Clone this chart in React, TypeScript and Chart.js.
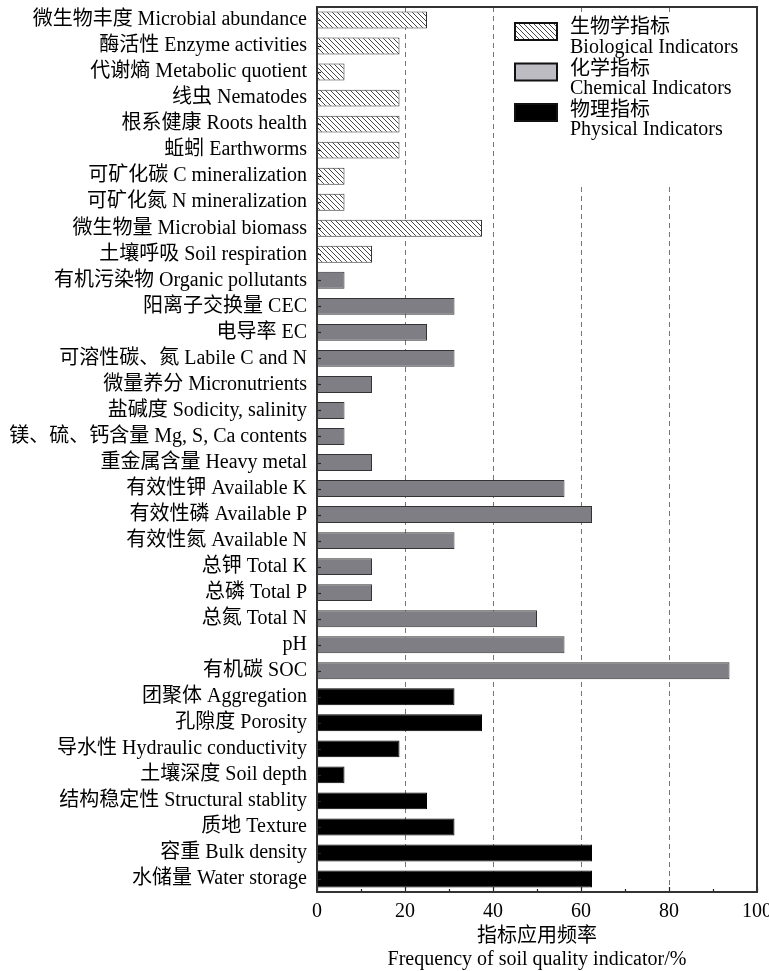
import React, { useEffect, useRef } from "react";
import { Chart, registerables } from "chart.js";

Chart.register(...registerables);

const categories = [
  "微生物丰度 Microbial abundance",
  "酶活性 Enzyme activities",
  "代谢熵 Metabolic quotient",
  "线虫 Nematodes",
  "根系健康 Roots health",
  "蚯蚓 Earthworms",
  "可矿化碳 C mineralization",
  "可矿化氮 N mineralization",
  "微生物量 Microbial biomass",
  "土壤呼吸 Soil respiration",
  "有机污染物 Organic pollutants",
  "阳离子交换量 CEC",
  "电导率 EC",
  "可溶性碳、氮 Labile C and N",
  "微量养分 Micronutrients",
  "盐碱度 Sodicity, salinity",
  "镁、硫、钙含量 Mg, S, Ca contents",
  "重金属含量 Heavy metal",
  "有效性钾 Available K",
  "有效性磷 Available P",
  "有效性氮 Available N",
  "总钾 Total K",
  "总磷 Total P",
  "总氮 Total N",
  "pH",
  "有机碳 SOC",
  "团聚体 Aggregation",
  "孔隙度 Porosity",
  "导水性 Hydraulic conductivity",
  "土壤深度 Soil depth",
  "结构稳定性 Structural stablity",
  "质地 Texture",
  "容重 Bulk density",
  "水储量 Water storage",
];

const frequencies = [
  25, 18.75, 6.25, 18.75, 18.75, 18.75, 6.25, 6.25, 37.5, 12.5,
  6.25, 31.25, 25, 31.25, 12.5, 6.25, 6.25, 12.5, 56.25, 62.5, 31.25, 12.5, 12.5, 50, 56.25, 93.75,
  31.25, 37.5, 18.75, 6.25, 25, 31.25, 62.5, 62.5,
];

const groups = [
  "bio", "bio", "bio", "bio", "bio", "bio", "bio", "bio", "bio", "bio",
  "chem", "chem", "chem", "chem", "chem", "chem", "chem", "chem", "chem", "chem", "chem", "chem", "chem", "chem", "chem", "chem",
  "phys", "phys", "phys", "phys", "phys", "phys", "phys", "phys",
];

const legendGroups = ["bio", "chem", "phys"];
const legendZh = ["生物学指标", "化学指标", "物理指标"];
const legendEn = ["Biological Indicators", "Chemical Indicators", "Physical Indicators"];

const xTickValues = [0, 20, 40, 60, 80, 100];
const gridValues = [20, 40, 60, 80];
const axisTitle = ["指标应用频率", "Frequency of soil quality indicator/%"];

const FONT = '"Liberation Serif", "Noto Sans CJK SC", serif';

function makeHatch(): CanvasPattern | string {
  const s = 5;
  const c = document.createElement("canvas");
  c.width = s;
  c.height = s;
  const g = c.getContext("2d");
  if (!g) return "#fff";
  g.fillStyle = "#fff";
  g.fillRect(0, 0, s, s);
  g.strokeStyle = "#333";
  g.lineWidth = 0.9;
  for (const x0 of [-s, 0, s]) {
    g.beginPath();
    g.moveTo(x0, 0);
    g.lineTo(x0 + s, s);
    g.stroke();
  }
  const p = g.createPattern(c, "repeat");
  return p || "#fff";
}

export default function App() {
  const ref = useRef<HTMLCanvasElement | null>(null);

  useEffect(() => {
    document.body.style.margin = "0";
    const canvas = ref.current;
    if (!canvas) return;
    const hatch = makeHatch();
    const fillFor = (g: string) => (g === "bio" ? hatch : g === "chem" ? "#7f7e84" : "#000");
    const legendFillFor = (g: string) => (g === "bio" ? hatch : g === "chem" ? "#bdbcc2" : "#000");
    const borderFor = (g: string) => (g === "phys" ? "#000" : "#333");

    const deco = {
      id: "deco",
      beforeDatasetsDraw(chart: any) {
        const { ctx, chartArea } = chart;
        const { top, bottom } = chartArea;
        const x = chart.scales.x;
        ctx.save();
        ctx.strokeStyle = "#777";
        ctx.lineWidth = 1;
        ctx.setLineDash([5, 4]);
        for (const v of gridValues) {
          const px = Math.round(x.getPixelForValue(v)) + 0.5;
          ctx.beginPath();
          ctx.moveTo(px, top);
          ctx.lineTo(px, bottom);
          ctx.stroke();
        }
        ctx.setLineDash([]);
        ctx.fillStyle = "#fff";
        ctx.fillRect(505, 13, 250, 170);
        ctx.restore();
      },
      afterDatasetsDraw(chart: any) {
        const { ctx, chartArea } = chart;
        const { top, bottom, left, right } = chartArea;
        const x = chart.scales.x;
        const y = chart.scales.y;
        ctx.save();
        ctx.strokeStyle = "#222";
        ctx.lineWidth = 1.2;
        categories.forEach((_, i) => {
          const py = Math.round(y.getPixelForValue(i)) + 0.5;
          ctx.beginPath();
          ctx.moveTo(left, py);
          ctx.lineTo(left + 4, py);
          ctx.stroke();
        });
        for (let v = 0; v <= 100; v += 10) {
          const px = Math.round(x.getPixelForValue(v)) + 0.5;
          const len = v % 20 === 0 ? 5 : 3;
          ctx.beginPath();
          ctx.moveTo(px, bottom);
          ctx.lineTo(px, bottom - len);
          ctx.stroke();
        }
        ctx.strokeStyle = "#333";
        ctx.lineWidth = 2;
        ctx.strokeRect(left, top, right - left, bottom - top);
        ctx.font = `20px ${FONT}`;
        ctx.textBaseline = "middle";
        ctx.textAlign = "left";
        legendGroups.forEach((g, i) => {
          const by = 23 + i * 40.5;
          ctx.fillStyle = legendFillFor(g) as any;
          ctx.fillRect(515, by, 42, 17);
          ctx.strokeStyle = "#111";
          ctx.lineWidth = 2;
          ctx.strokeRect(515, by, 42, 17);
          ctx.fillStyle = "#000";
          ctx.fillText(legendZh[i], 570, 28 + i * 41.5);
          ctx.fillText(legendEn[i], 570, 48 + i * 41);
        });
        ctx.textAlign = "center";
        const cx = (left + right) / 2;
        ctx.fillText(axisTitle[0], cx, 937);
        ctx.fillText(axisTitle[1], cx, 960);
        ctx.restore();
      },
    };

    const chart = new Chart(canvas, {
      type: "bar",
      data: {
        labels: categories,
        datasets: [
          {
            data: frequencies,
            backgroundColor: groups.map(fillFor) as any,
            borderColor: groups.map(borderFor),
            borderWidth: 1,
            barPercentage: 0.65,
            categoryPercentage: 1,
          },
        ],
      },
      options: {
        indexAxis: "y",
        animation: false,
        responsive: false,
        devicePixelRatio: 1,
        layout: { padding: { top: 7, right: 12, left: 0, bottom: 0 } },
        plugins: { legend: { display: false }, tooltip: { enabled: false } },
        scales: {
          x: {
            min: 0,
            max: 100,
            grid: { display: false, drawTicks: false },
            border: { display: false },
            afterFit: (s: any) => {
              s.height = 79;
              s.paddingLeft = 0;
              s.paddingRight = 0;
            },
            afterBuildTicks: (s: any) => {
              s.ticks = xTickValues.map((v) => ({ value: v }));
            },
            ticks: {
              color: "#000",
              padding: 8,
              font: { family: FONT, size: 20 },
            },
          },
          y: {
            grid: { display: false, drawTicks: false },
            border: { display: false },
            afterFit: (s: any) => {
              s.width = 317;
              s.paddingTop = 0;
              s.paddingBottom = 0;
            },
            ticks: {
              color: "#000",
              padding: 10,
              autoSkip: false,
              font: { family: FONT, size: 20 },
            },
          },
        },
      },
      plugins: [deco],
    });
    return () => chart.destroy();
  }, []);

  return (
    <div style={{ width: 769, height: 971 }}>
      <canvas ref={ref} width={769} height={971} style={{ display: "block" }} />
    </div>
  );
}
